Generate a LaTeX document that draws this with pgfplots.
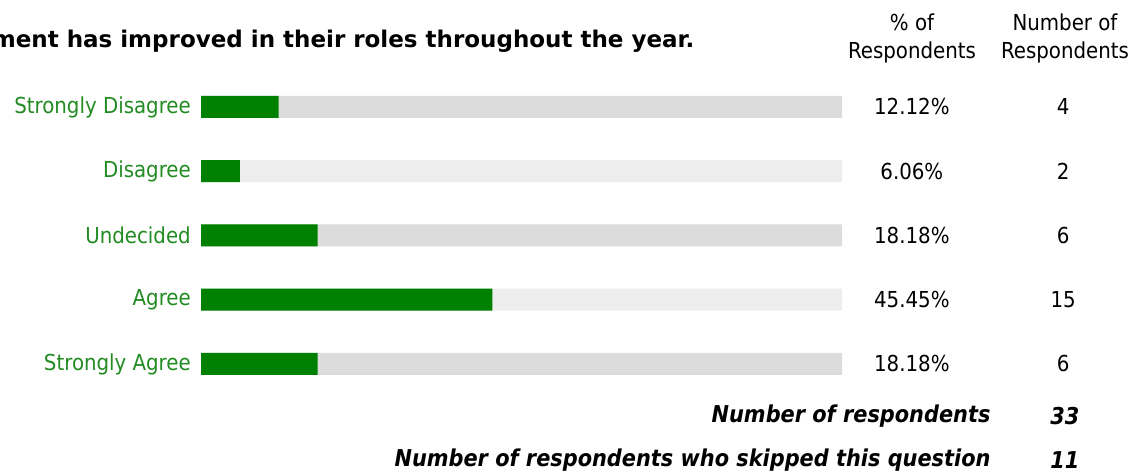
\documentclass[border=0pt]{standalone}
\usepackage{fontspec}
\setmainfont{DejaVu Sans Condensed}
\newfontfamily\titlefont{DejaVu Sans}
\usepackage{pgfplots}
\pgfplotsset{compat=1.18}
\definecolor{bargreen}{RGB}{0,128,0}
\definecolor{labgreen}{RGB}{34,139,34}
\definecolor{bgdark}{RGB}{220,220,220}
\definecolor{bglight}{RGB}{237,237,237}
\newcommand{\fs}{\fontsize{22}{28}\selectfont}
\newcommand{\fb}{\fontsize{23.2}{28}\selectfont\bfseries\itshape}
\begin{document}
\begin{tikzpicture}
\useasboundingbox (0pt,0pt) rectangle (1148pt,472pt);
\node[anchor=east, font=\titlefont\fontsize{23}{28}\selectfont\bfseries] at (698pt,431pt) {Senior management has improved in their roles throughout the year.};
\node[align=center, font=\fs] at (912pt,434pt) {\% of\\Respondents};
\node[align=center, font=\fs] at (1065pt,434pt) {Number of\\Respondents};
\begin{axis}[
  at={(201pt,75.9pt)}, anchor=south west, scale only axis,
  width=641pt, height=321.25pt,
  xmin=0, xmax=100, ymin=-0.5, ymax=4.5,
  axis line style={draw=none}, tick style={draw=none}, major tick length=0pt,
  xtick=\empty, ytick={0,1,2,3,4},
  yticklabels={Strongly Agree, Agree, Undecided, Disagree, Strongly Disagree},
  yticklabel style={font=\fs, text=labgreen, inner sep=0pt, xshift=-10pt},
  clip=false,
]
\addplot[xbar, bar shift=0pt, bar width=22pt, fill=bgdark, draw=none] coordinates {(100,0) (100,2) (100,4)};
\addplot[xbar, bar shift=0pt, bar width=22pt, fill=bglight, draw=none] coordinates {(100,1) (100,3)};
\addplot[xbar, bar shift=0pt, bar width=22pt, fill=bargreen, draw=none] coordinates {(12.12,4) (6.06,3) (18.18,2) (45.45,1) (18.18,0)};
\node[font=\fs] at (axis cs:110.9,4) {12.12\%};
\node[font=\fs] at (axis cs:110.9,3) {6.06\%};
\node[font=\fs] at (axis cs:110.9,2) {18.18\%};
\node[font=\fs] at (axis cs:110.9,1) {45.45\%};
\node[font=\fs] at (axis cs:110.9,0) {18.18\%};
\node[font=\fs] at (axis cs:134.5,4) {4};
\node[font=\fs] at (axis cs:134.5,3) {2};
\node[font=\fs] at (axis cs:134.5,2) {6};
\node[font=\fs] at (axis cs:134.5,1) {15};
\node[font=\fs] at (axis cs:134.5,0) {6};
\end{axis}
\node[anchor=east, font=\fb] at (994pt,56pt) {Number of respondents};
\node[anchor=east, font=\fb] at (1083pt,56pt) {33};
\node[anchor=east, font=\fb] at (994pt,12pt) {Number of respondents who skipped this question};
\node[anchor=east, font=\fb] at (1083pt,12pt) {11};
\end{tikzpicture}
\end{document}
